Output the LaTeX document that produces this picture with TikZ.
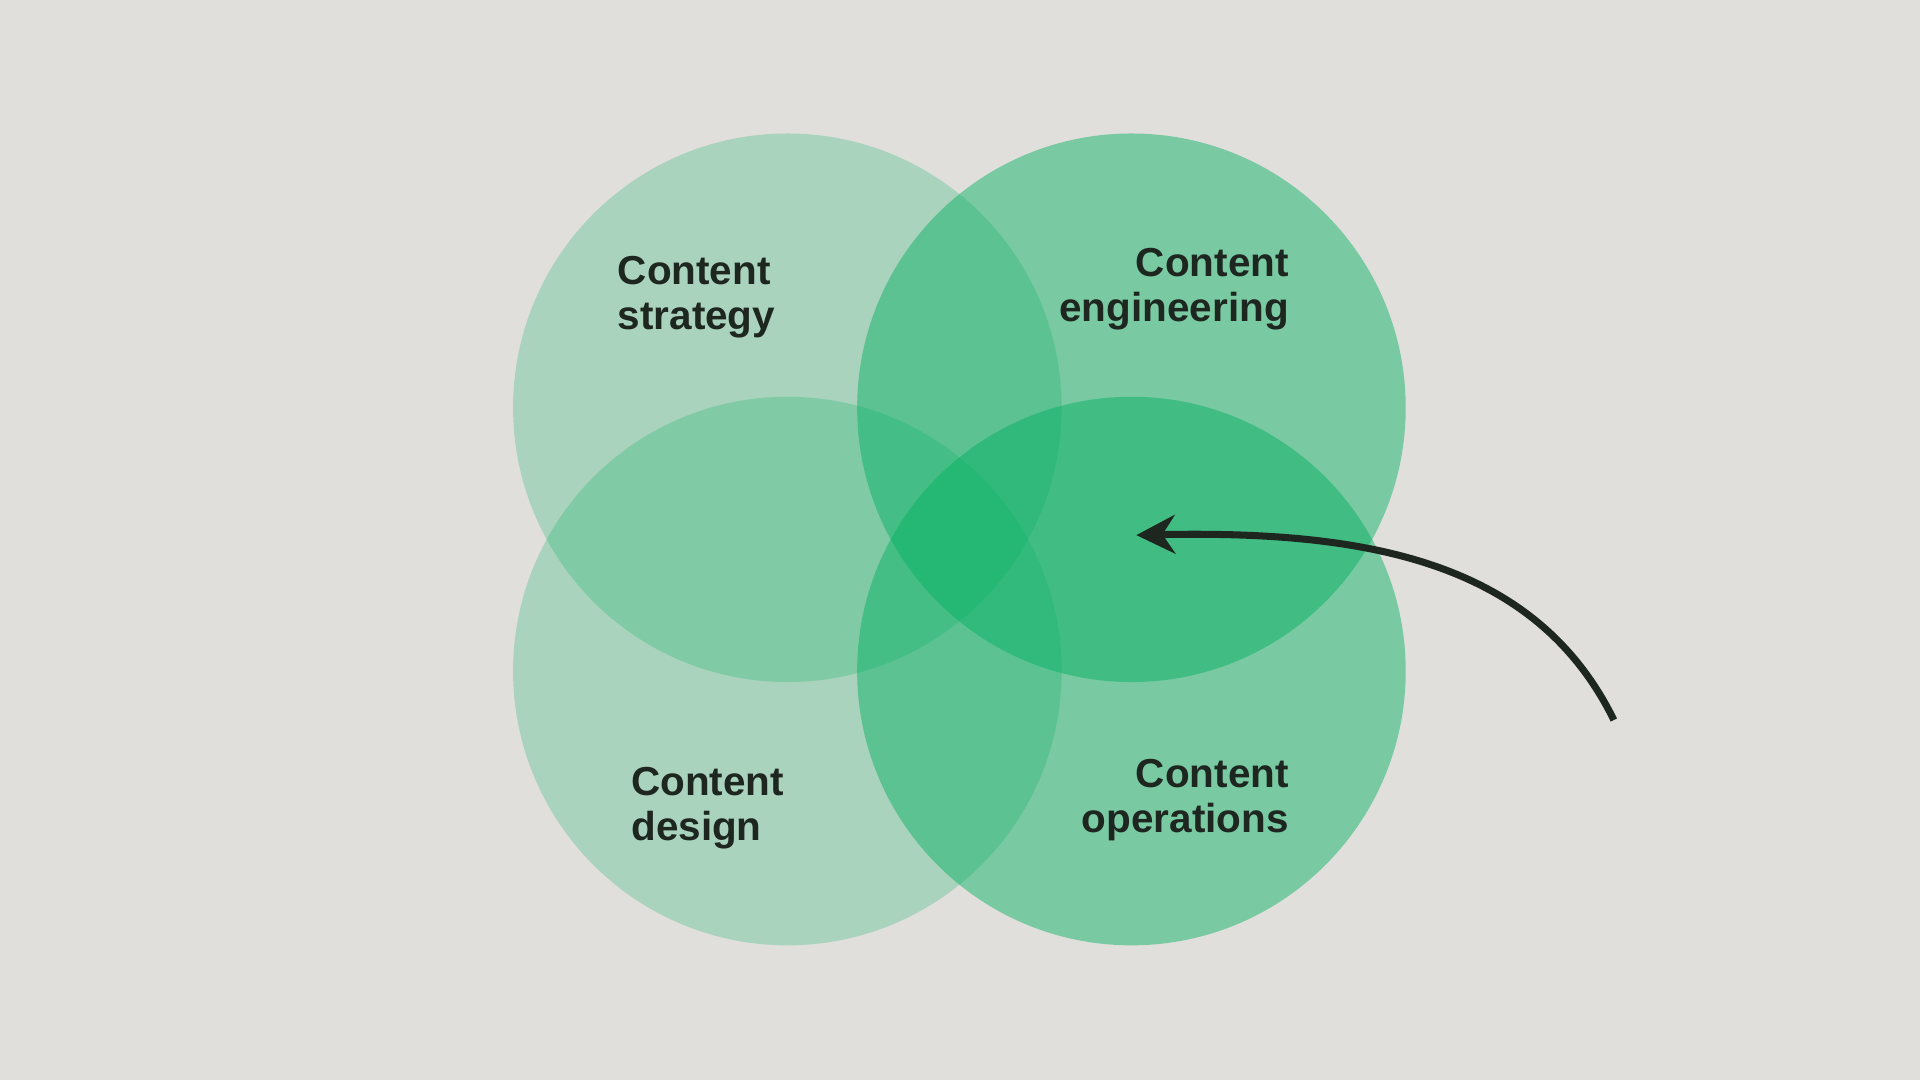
\documentclass[tikz,border=0pt]{standalone}
\usepackage{fontspec}
\setmainfont{Liberation Sans}
\usetikzlibrary{arrows.meta, positioning}
\definecolor{bg}{HTML}{E0DFDB}
\definecolor{venn}{HTML}{00B060}
\definecolor{ink}{HTML}{1E2620}

\begin{document}
\begin{tikzpicture}[x=0.012245cm, y=-0.012245cm, >=Stealth]
        \tikzset{
            lightcircle/.style={fill=venn, fill opacity=0.24},
            darkcircle/.style={fill=venn, fill opacity=0.46},
            label/.style={font=\bfseries\fontsize{11.5}{12.8}\selectfont, text=ink, inner sep=0pt}
        }
        % Background
        \fill[bg] (0,0) rectangle (1568,882);
        \useasboundingbox (0,0) rectangle (1568,882);

        % Circles
        \fill[lightcircle] (643,333) circle (224);
        \fill[darkcircle] (924,333) circle (224);
        \fill[lightcircle] (643,548) circle (224);
        \fill[darkcircle] (924,548) circle (224);

        % Labels
        \node[label, align=left, anchor=west] (strategy) at (504,243) {Content\\strategy};
        \node[label, align=right, anchor=east] (engineering) at (1053,236) {Content\\engineering};
        \node[label, align=left, anchor=west] (design) at (515,660) {Content\\design};
        \node[label, align=right, anchor=east] (operations) at (1053,653) {Content\\operations};

        % Arrow
        \coordinate (tail) at (1318,588);
        \coordinate (tip) at (928,437);
        \draw[ink, line width=2pt, arrows={-Stealth[length=11pt, width=11pt]}]
            (tail) .. controls (1255,460) and (1120,433) .. (tip);
    \end{tikzpicture}
\end{document}
